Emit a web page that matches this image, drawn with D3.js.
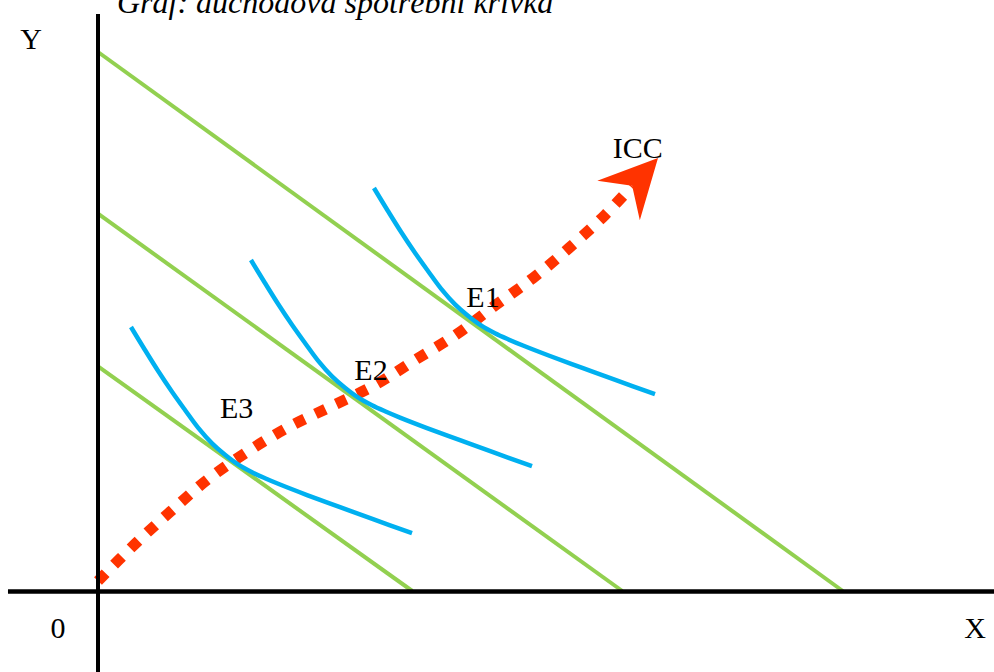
<!DOCTYPE html>
<html>
<head>
<meta charset="utf-8">
<script src="https://cdn.jsdelivr.net/npm/d3@7"></script>
<style>
  html, body { margin: 0; padding: 0; background: #fff; }
  svg { display: block; }
</style>
</head>
<body>
<svg id="chart" width="994" height="672"></svg>
<script>
// ---- data (chart units) ----
const title = "Graf: důchodová spotřební křivka";
const axisLabels = { x: "X", y: "Y", origin: "0" };

// budget lines: [y-intercept, x-intercept]
const budgetYIntercepts = [7.70, 5.39, 3.21];
const budgetXIntercepts = [10.64, 7.49, 4.49];

// indifference curves
const icc1 = [[3.942,5.757],[4.142,5.429],[4.328,5.132],[4.528,4.832],[4.714,4.572],[4.900,4.320],[5.100,4.096],[5.285,3.933],[5.471,3.795],[5.671,3.683],[5.857,3.597],[6.071,3.507],[6.457,3.357],[6.928,3.183],[7.400,3.012],[7.957,2.812]];
const icc2 = [[2.185,4.728],[2.385,4.400],[2.571,4.103],[2.771,3.803],[2.957,3.543],[3.143,3.291],[3.343,3.067],[3.528,2.904],[3.714,2.766],[3.914,2.654],[4.100,2.568],[4.314,2.478],[4.700,2.328],[5.171,2.154],[5.643,1.983],[6.200,1.783]];
const icc3 = [[0.471,3.771],[0.671,3.443],[0.857,3.146],[1.057,2.846],[1.243,2.586],[1.429,2.334],[1.629,2.110],[1.814,1.947],[2.000,1.809],[2.200,1.697],[2.386,1.611],[2.600,1.521],[2.986,1.371],[3.457,1.197],[3.929,1.026],[4.486,0.826]];

// income-consumption curve
const iccPath = [[0,0.143],[0.529,0.671],[1.029,1.129],[1.557,1.586],[2.129,1.986],[2.700,2.329],[3.314,2.629],[3.957,2.943],[4.529,3.300],[5.129,3.671],[5.643,4.057],[6.214,4.471],[6.729,4.900],[7.243,5.371],[7.629,5.786]];
const iccTip = [8.0, 6.186];

// equilibrium labels: [label, x, y]
const eqLabels = [["E1", 5.50, 4.06], ["E2", 3.90, 3.01], ["E3", 1.98, 2.47]];
const iccLabel = ["ICC", 7.71, 6.186];

// ---- scales ----
const svg = d3.select("#chart");
const x = d3.scaleLinear().domain([-1.4, 12.8]).range([0, 994]);
const y = d3.scaleLinear().domain([-81/70, 591/70]).range([672, 0]);

const GREEN = "#92D050", BLUE = "#00B0F0", RED = "#FF3300";
const serif = "'Liberation Serif', 'Times New Roman', serif";

// ICC dotted line (drawn first, beneath)
const line = d3.line().x(d => x(d[0])).y(d => y(d[1])).curve(d3.curveCatmullRom.alpha(0.5));
svg.append("path")
  .attr("d", line(iccPath))
  .attr("fill", "none")
  .attr("stroke", RED)
  .attr("stroke-width", 11)
  .attr("stroke-dasharray", "11,12")
  .attr("stroke-linecap", "butt");

// arrowhead
(function () {
  const tx = x(iccTip[0]), ty = y(iccTip[1]);
  const last = iccPath[iccPath.length - 1];
  const bx = x(last[0]), by = y(last[1]);
  let ux = tx - bx, uy = ty - by;
  const L = Math.hypot(ux, uy); ux /= L; uy /= L;
  const nx = -uy, ny = ux;
  const back = 58, half = 29, notch = 38;
  const p = [
    [tx, ty],
    [tx - ux * back + nx * half, ty - uy * back + ny * half],
    [tx - ux * notch, ty - uy * notch],
    [tx - ux * back - nx * half, ty - uy * back - ny * half]
  ];
  svg.append("path").attr("d", "M" + p.map(q => q.join(",")).join("L") + "Z").attr("fill", RED);
})();

// budget lines
budgetYIntercepts.forEach((yi, i) => {
  svg.append("line")
    .attr("x1", x(0)).attr("y1", y(yi))
    .attr("x2", x(budgetXIntercepts[i])).attr("y2", y(0))
    .attr("stroke", GREEN).attr("stroke-width", 4);
});

// indifference curves
const curveLine = d3.line().x(d => x(d[0])).y(d => y(d[1])).curve(d3.curveCatmullRom.alpha(0.5));
[icc1, icc2, icc3].forEach(c => {
  svg.append("path").attr("d", curveLine(c))
    .attr("fill", "none").attr("stroke", BLUE).attr("stroke-width", 4.5);
});

// axes
svg.append("line").attr("x1", x(0)).attr("x2", x(0)).attr("y1", y(8.243)).attr("y2", y.range()[0])
  .attr("stroke", "#000").attr("stroke-width", 4);
svg.append("line").attr("x1", x(-1.286)).attr("x2", x.range()[1]).attr("y1", y(0) + 0.5).attr("y2", y(0) + 0.5)
  .attr("stroke", "#000").attr("stroke-width", 4.5);

// texts
const txt = (s, px, py, anchor, size) => {
  return svg.append("text").attr("x", px).attr("y", py).attr("text-anchor", anchor || "middle")
    .attr("font-family", serif).attr("font-size", size || 30).attr("fill", "#000").text(s);
};
txt(title, x(0.271), 13, "start", 32).attr("font-style", "italic");
txt(axisLabels.y, x(-0.957), y(7.743));
txt(axisLabels.origin, x(-0.571), y(-0.671));
txt(axisLabels.x, x(12.529), y(-0.671));
eqLabels.forEach(d => txt(d[0], x(d[1]), y(d[2])));
txt(iccLabel[0], x(iccLabel[1]), y(iccLabel[2]));
</script>
</body>
</html>
